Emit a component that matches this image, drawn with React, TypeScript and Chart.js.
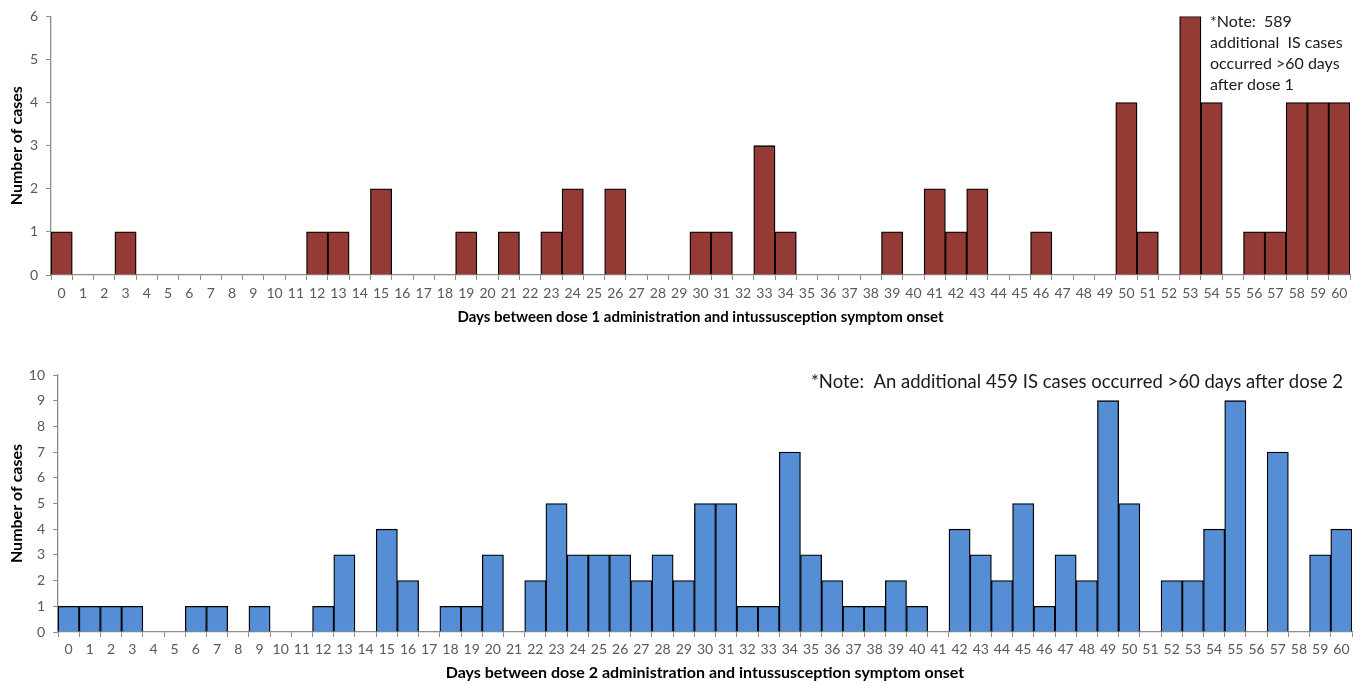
import React, { useEffect, useRef } from "react";
import { Chart, registerables } from "chart.js";

Chart.register(...registerables);

const dayLabels = [
  "0", "1", "2", "3", "4", "5", "6", "7", "8", "9",
  "10", "11", "12", "13", "14", "15", "16", "17", "18", "19",
  "20", "21", "22", "23", "24", "25", "26", "27", "28", "29",
  "30", "31", "32", "33", "34", "35", "36", "37", "38", "39",
  "40", "41", "42", "43", "44", "45", "46", "47", "48", "49",
  "50", "51", "52", "53", "54", "55", "56", "57", "58", "59",
  "60",
];

const dose1Cases = [
  1, 0, 0, 1, 0, 0, 0, 0, 0, 0,
  0, 0, 1, 1, 0, 2, 0, 0, 0, 1,
  0, 1, 0, 1, 2, 0, 2, 0, 0, 0,
  1, 1, 0, 3, 1, 0, 0, 0, 0, 1,
  0, 2, 1, 2, 0, 0, 1, 0, 0, 0,
  4, 1, 0, 6, 4, 0, 1, 1, 4, 4,
  4,
];

const dose2Cases = [
  1, 1, 1, 1, 0, 0, 1, 1, 0, 1,
  0, 0, 1, 3, 0, 4, 2, 0, 1, 1,
  3, 0, 2, 5, 3, 3, 3, 2, 3, 2,
  5, 5, 1, 1, 7, 3, 2, 1, 1, 2,
  1, 0, 4, 3, 2, 5, 1, 3, 2, 9,
  5, 0, 2, 2, 4, 9, 0, 7, 0, 3,
  4,
];

const dose1Ticks = [0, 1, 2, 3, 4, 5, 6];
const dose2Ticks = [0, 1, 2, 3, 4, 5, 6, 7, 8, 9, 10];

const dose1Title = "Days between dose 1 administration and intussusception symptom onset";
const dose2Title = "Days between dose 2 administration and intussusception symptom onset";
const yTitle = "Number of cases";

const dose1Note = ["*Note:  589", "additional  IS cases", "occurred >60 days", "after dose 1"];
const dose2Note = ["*Note:  An additional 459 IS cases occurred >60 days after dose 2"];

const FONT = "Lato, 'Open Sans', sans-serif";

type Cfg = {
  values: number[];
  ticks: number[];
  color: string;
  xTitle: string;
  note: string[];
  width: number;
  height: number;
  padTop: number;
  padRight: number;
  yWidth: number;
  xHeight: number;
  tickPad: number;
  titleSize: number;
  titlePadBottom: number;
  noteX: number;
  noteY: number;
  noteLine: number;
  noteSize: number;
};

function BarPanel(p: Cfg) {
  const ref = useRef<HTMLCanvasElement | null>(null);
  useEffect(() => {
    if (!ref.current) return;
    const notePlugin = {
      id: "notePlugin",
      afterDraw(chart: any) {
        const ctx = chart.ctx;
        ctx.save();
        ctx.font = `${p.noteSize}px ${FONT}`;
        ctx.fillStyle = "#1a1a1a";
        ctx.textBaseline = "middle";
        ctx.textAlign = "left";
        p.note.forEach((line, i) => {
          ctx.fillText(line, p.noteX, p.noteY + i * p.noteLine);
        });
        ctx.restore();
      },
    };
    const chart = new Chart(ref.current, {
      type: "bar",
      data: {
        labels: dayLabels,
        datasets: [
          {
            data: p.values,
            backgroundColor: p.color,
            borderColor: "#000000",
            borderWidth: 1.3,
            barPercentage: 1,
            categoryPercentage: 1,
          },
        ],
      },
      options: {
        responsive: false,
        animation: false,
        layout: { padding: { top: p.padTop, right: p.padRight, left: 0, bottom: 0 } },
        plugins: { legend: { display: false }, tooltip: { enabled: false } },
        scales: {
          x: {
            type: "category",
            offset: true,
            grid: {
              display: true,
              drawOnChartArea: false,
              offset: true,
              tickLength: 5,
              color: "#8c8c8c",
            },
            border: { display: true, color: "#8c8c8c", width: 1.3 },
            ticks: {
              autoSkip: false,
              maxRotation: 0,
              padding: p.tickPad,
              color: "#595959",
              font: { family: FONT, size: 14 },
            },
            title: {
              display: true,
              text: p.xTitle,
              color: "#000000",
              font: { family: FONT, size: p.titleSize, weight: "bold" },
              padding: { top: 0, bottom: p.titlePadBottom },
            },
            afterFit: (scale: any) => {
              scale.height = p.xHeight;
            },
          },
          y: {
            min: 0,
            max: p.ticks[p.ticks.length - 1],
            afterBuildTicks: (scale: any) => {
              scale.ticks = p.ticks.map((v) => ({ value: v }));
            },
            grid: {
              display: true,
              drawOnChartArea: false,
              tickLength: 5,
              color: "#8c8c8c",
            },
            border: { display: true, color: "#8c8c8c", width: 1.3 },
            ticks: {
              padding: 8,
              color: "#595959",
              font: { family: FONT, size: 14 },
            },
            title: {
              display: true,
              text: yTitle,
              color: "#000000",
              font: { family: FONT, size: 16, weight: "bold" },
              padding: { top: 7, bottom: 0 },
            },
            afterFit: (scale: any) => {
              scale.width = p.yWidth;
            },
          },
        },
      },
      plugins: [notePlugin],
    } as any);
    return () => chart.destroy();
  }, []);
  return <canvas ref={ref} width={p.width} height={p.height} style={{ display: "block" }} />;
}

export default function App() {
  return (
    <div style={{ position: "absolute", left: 0, top: 0, width: 1363, height: 685, background: "#fff" }}>
      <div style={{ position: "absolute", left: 0, top: 0 }}>
        <BarPanel
          values={dose1Cases}
          ticks={dose1Ticks}
          color="#943B35"
          xTitle={dose1Title}
          note={dose1Note}
          width={1363}
          height={335}
          padTop={15}
          padRight={13}
          yWidth={51}
          xHeight={60}
          tickPad={5}
          titleSize={15}
          titlePadBottom={9}
          noteX={1210}
          noteY={22}
          noteLine={21}
          noteSize={16}
        />
      </div>
      <div style={{ position: "absolute", left: 0, top: 340 }}>
        <BarPanel
          values={dose2Cases}
          ticks={dose2Ticks}
          color="#558ED5"
          xTitle={dose2Title}
          note={dose2Note}
          width={1363}
          height={345}
          padTop={35}
          padRight={11}
          yWidth={58}
          xHeight={53}
          tickPad={4}
          titleSize={16}
          titlePadBottom={3}
          noteX={811}
          noteY={42}
          noteLine={20}
          noteSize={18.5}
        />
      </div>
    </div>
  );
}
